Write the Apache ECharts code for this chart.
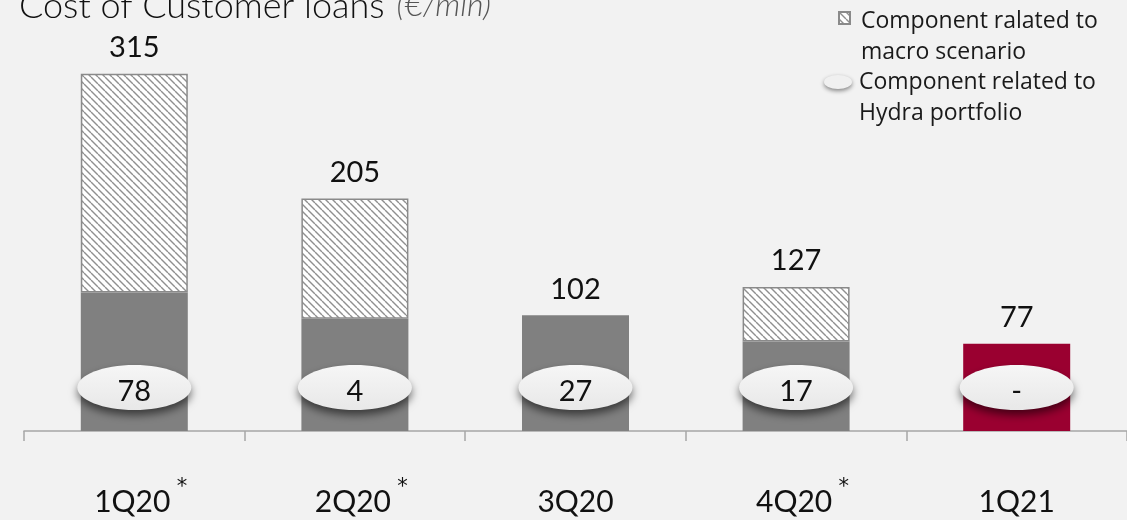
<!DOCTYPE html>
<html>
<head>
<meta charset="utf-8">
<script src="https://cdn.jsdelivr.net/npm/echarts@6/dist/echarts.min.js"></script>
<style>
  html, body { margin: 0; padding: 0; background: #f2f2f2; }
  #chart { width: 1127px; height: 520px; }
</style>
</head>
<body>
<div id="chart"></div>
<script>
// Quarterly cost of customer loans, €/mln
const categories = ['1Q20', '2Q20', '3Q20', '4Q20', '1Q21'];
const footnoted = [true, true, false, true, false];
const totals = [315, 205, 102, 127, 77];
const baseCost = [122, 99, 102, 79, null];
const macroComp = [193, 106, null, 48, null];
const currentCost = [null, null, null, null, 77];
const hydraComp = ['78', '4', '27', '17', '-'];

const MACRO_NAME = 'Component ralated to\nmacro scenario';
const HYDRA_NAME = 'Component related to\nHydra portfolio';

// Diagonal hatch tile for the macro-scenario component
function hatchTile() {
  const s = 7;
  const c = document.createElement('canvas');
  c.width = s; c.height = s;
  const ctx = c.getContext('2d');
  ctx.fillStyle = '#ffffff';
  ctx.fillRect(0, 0, s, s);
  ctx.strokeStyle = '#8f8f8f';
  ctx.lineWidth = 1.4;
  for (const o of [-s, 0, s]) {
    ctx.beginPath();
    ctx.moveTo(o, 0);
    ctx.lineTo(o + s, s);
    ctx.stroke();
  }
  return c;
}
const hatch = { image: hatchTile(), repeat: 'repeat' };

// Two-line legend text, first line level with the icon
const legendText = (name) => {
  const lines = name.split('\n');
  return `{e| }\n{t|${lines[0]}}\n{t|${lines[1]}}`;
};
const legendFont = { fontFamily: 'Open Sans', fontSize: 23, lineHeight: 31, color: '#1a1a1a' };

const chart = echarts.init(document.getElementById('chart'), null, { renderer: 'canvas' });

const ellipseFill = new echarts.graphic.LinearGradient(0, 0, 0, 1, [
  { offset: 0, color: '#f6f6f6' },
  { offset: 1, color: '#e8e8e8' }
]);

chart.setOption({
  backgroundColor: '#f2f2f2',
  animation: false,
  title: {
    left: 14,
    top: -19,
    text: '{a|Cost of Customer loans}{b|(€/mln)}',
    textStyle: {
      rich: {
        a: { fontFamily: 'Lato', fontWeight: 300, fontSize: 36, color: '#111111', lineHeight: 40 },
        b: { fontFamily: 'Lato', fontWeight: 300, fontStyle: 'italic', fontSize: 32, color: '#555555', lineHeight: 40, padding: [0, 0, 0, 12] }
      }
    }
  },
  legend: [
    {
      left: 838,
      top: -18,
      padding: 0,
      orient: 'vertical',
      selectedMode: false,
      itemWidth: 11,
      itemHeight: 12,
      data: [{ name: MACRO_NAME, icon: 'rect' }],
      formatter: legendText,
      textStyle: {
        padding: [0, 0, 0, 6],
        rich: {
          e: { fontSize: 10, lineHeight: 37 },
          t: legendFont
        }
      }
    },
    {
      left: 824,
      top: 46,
      padding: 0,
      orient: 'vertical',
      selectedMode: false,
      itemWidth: 32,
      itemHeight: 14,
      data: [{
        name: HYDRA_NAME,
        icon: 'path://M0,5A10,5,0,1,1,20,5A10,5,0,1,1,0,5Z',
        itemStyle: { color: '#f0f0f0', shadowBlur: 4, shadowOffsetY: 2, shadowColor: 'rgba(0,0,0,0.45)' }
      }],
      formatter: legendText,
      textStyle: {
        rich: {
          e: { fontSize: 10, lineHeight: 31 },
          t: legendFont
        }
      }
    }
  ],
  grid: { left: 24, width: 1106, top: 34, height: 397, containLabel: false },
  xAxis: {
    type: 'category',
    data: categories,
    axisLine: { lineStyle: { color: '#a6a6a6', width: 1.5 } },
    axisTick: { show: true, length: 10, lineStyle: { color: '#a6a6a6', width: 1.5 } },
    axisLabel: {
      margin: 46,
      formatter: (value, idx) => footnoted[idx] ? `{p|}{a|${value}}{s|*}` : `{a|${value}}`,
      rich: {
        a: { fontFamily: 'Lato', fontSize: 30, color: '#111111', lineHeight: 50 },
        p: { width: 15 },
        s: { fontFamily: 'DejaVu Sans', fontSize: 21, color: '#111111', width: 15, lineHeight: 24, verticalAlign: 'top', padding: [0, 0, 0, 4] }
      }
    }
  },
  yAxis: { type: 'value', min: 0, max: 350, show: false, splitLine: { show: false } },
  series: [
    {
      name: 'base',
      type: 'bar',
      stack: 'cost',
      barWidth: 107,
      data: baseCost,
      itemStyle: { color: '#808080' }
    },
    {
      name: '1Q21',
      type: 'bar',
      stack: 'cost',
      barWidth: 107,
      data: currentCost,
      itemStyle: { color: '#9a0030' }
    },
    {
      name: MACRO_NAME,
      type: 'bar',
      stack: 'cost',
      barWidth: 107,
      data: macroComp,
      itemStyle: { color: hatch, borderColor: '#8a8a8a', borderWidth: 1.5 }
    },
    {
      name: 'total',
      type: 'bar',
      barWidth: 107,
      barGap: '-100%',
      silent: true,
      data: totals,
      itemStyle: { color: 'rgba(0,0,0,0)' },
      label: {
        show: true,
        position: 'top',
        distance: 11,
        fontFamily: 'Lato',
        fontSize: 29,
        lineHeight: 30,
        color: '#111111'
      }
    },
    {
      name: HYDRA_NAME,
      type: 'custom',
      z: 5,
      data: categories.map((c) => [c, 0]),
      encode: { x: 0, y: 1 },
      itemStyle: { color: '#f0f0f0' },
      renderItem: (params, api) => {
        const p = api.coord([api.value(0), 0]);
        const cx = p[0];
        const cy = p[1] - 43.5;
        return {
          type: 'group',
          children: [
            {
              type: 'ellipse',
              shape: { cx: cx, cy: cy, rx: 57, ry: 22.5 },
              style: {
                fill: ellipseFill,
                shadowBlur: 9,
                shadowOffsetY: 5,
                shadowColor: 'rgba(0,0,0,0.55)'
              }
            },
            {
              type: 'text',
              style: {
                text: hydraComp[params.dataIndex],
                x: cx,
                y: cy + 4.5,
                align: 'center',
                verticalAlign: 'middle',
                font: '29px Lato',
                fill: '#111111'
              }
            }
          ]
        };
      }
    }
  ]
});
</script>
</body>
</html>
